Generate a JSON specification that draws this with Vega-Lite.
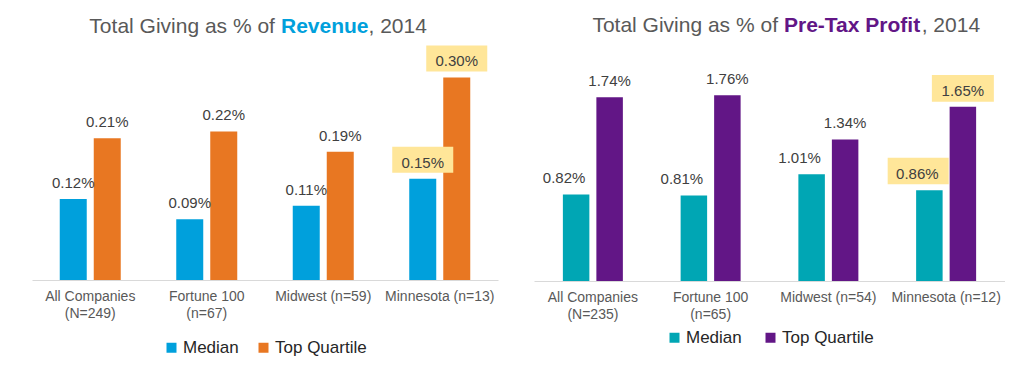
{
  "$schema": "https://vega.github.io/schema/vega-lite/v6.json",
  "background": "white",
  "padding": {"left": 32, "top": 0, "right": 0, "bottom": 0},
  "datasets": {
    "left": [
      {"group": "All Companies|(N=249)", "series": "Median", "value": 0.0012},
      {"group": "All Companies|(N=249)", "series": "Top Quartile", "value": 0.0021},
      {"group": "Fortune 100|(n=67)", "series": "Median", "value": 0.0009},
      {"group": "Fortune 100|(n=67)", "series": "Top Quartile", "value": 0.0022},
      {"group": "Midwest (n=59)", "series": "Median", "value": 0.0011},
      {"group": "Midwest (n=59)", "series": "Top Quartile", "value": 0.0019},
      {"group": "Minnesota (n=13)", "series": "Median", "value": 0.0015},
      {"group": "Minnesota (n=13)", "series": "Top Quartile", "value": 0.0030}
    ],
    "right": [
      {"group": "All Companies|(N=235)", "series": "Median", "value": 0.0082},
      {"group": "All Companies|(N=235)", "series": "Top Quartile", "value": 0.0174},
      {"group": "Fortune 100|(n=65)", "series": "Median", "value": 0.0081},
      {"group": "Fortune 100|(n=65)", "series": "Top Quartile", "value": 0.0176},
      {"group": "Midwest (n=54)", "series": "Median", "value": 0.0101},
      {"group": "Midwest (n=54)", "series": "Top Quartile", "value": 0.0134},
      {"group": "Minnesota (n=12)", "series": "Median", "value": 0.0086},
      {"group": "Minnesota (n=12)", "series": "Top Quartile", "value": 0.0165}
    ],
    "titleLeft": [{"a": "Total Giving as % of", "b": "Revenue", "c": ", 2014"}],
    "titleRight": [{"a": "Total Giving as % of", "b": "Pre-Tax Profit", "c": ", 2014"}]
  },
  "spacing": 36,
  "hconcat": [
    {
      "width": 466,
      "height": 280,
      "layer": [
        {
          "data": {"name": "left"},
          "encoding": {
            "x": {"field": "group", "type": "nominal", "sort": null, "scale": {"paddingInner": 0, "paddingOuter": 0},
                  "axis": {"title": null, "labelExpr": "split(datum.label, '|')"}},
            "xOffset": {"field": "series", "type": "nominal", "sort": null, "scale": {"paddingInner": 0.206, "paddingOuter": 0.816}},
            "y": {"field": "value", "type": "quantitative", "scale": {"domain": [0, 0.004148], "nice": false}, "axis": null}
          },
          "layer": [
            {
              "mark": {"type": "bar"},
              "encoding": {
                "color": {"field": "series", "type": "nominal", "sort": null,
                          "scale": {"domain": ["Median", "Top Quartile"], "range": ["#00A0DC", "#E87722"]},
                          "legend": {"orient": "bottom", "title": null, "offset": 19}}
              }
            },
            {
              "transform": [{"filter": {"field": "group", "oneOf": ["Minnesota (n=13)"]}}],
              "mark": {"type": "point", "shape": "M-1.017,-1.067H1.017V-0.2H-1.017Z", "filled": true, "size": 3600, "color": "#FFE699", "opacity": 1, "strokeWidth": 0}
            },
            {
              "mark": {"type": "text", "baseline": "alphabetic", "dy": -11, "fontSize": 15, "font": "Liberation Sans", "color": "#404040"},
              "encoding": {"text": {"field": "value", "type": "quantitative", "format": ".2%"}}
            }
          ]
        },
        {
          "data": {"name": "titleLeft"},
          "mark": {"type": "text", "align": "right", "baseline": "alphabetic", "dx": -6, "fontSize": 21, "font": "Liberation Sans", "color": "#595959"},
          "encoding": {"x": {"datum": "Midwest (n=59)", "type": "nominal", "bandPosition": 0.137}, "y": {"datum": 0.003659, "type": "quantitative"}, "text": {"field": "a", "type": "nominal"}}
        },
        {
          "data": {"name": "titleLeft"},
          "mark": {"type": "text", "align": "left", "baseline": "alphabetic", "fontSize": 21, "font": "Liberation Sans", "fontWeight": "bold", "color": "#00A0DC"},
          "encoding": {"x": {"datum": "Midwest (n=59)", "type": "nominal", "bandPosition": 0.137}, "y": {"datum": 0.003659, "type": "quantitative"}, "text": {"field": "b", "type": "nominal"}}
        },
        {
          "data": {"name": "titleLeft"},
          "mark": {"type": "text", "align": "left", "baseline": "alphabetic", "dx": 87.5, "fontSize": 21, "font": "Liberation Sans", "color": "#595959"},
          "encoding": {"x": {"datum": "Midwest (n=59)", "type": "nominal", "bandPosition": 0.137}, "y": {"datum": 0.003659, "type": "quantitative"}, "text": {"field": "c", "type": "nominal"}}
        }
      ]
    },
    {
      "width": 471,
      "height": 281,
      "layer": [
        {
          "data": {"name": "right"},
          "encoding": {
            "x": {"field": "group", "type": "nominal", "sort": null, "scale": {"paddingInner": 0, "paddingOuter": 0},
                  "axis": {"title": null, "labelExpr": "split(datum.label, '|')"}},
            "xOffset": {"field": "series", "type": "nominal", "sort": null, "scale": {"paddingInner": 0.209, "paddingOuter": 0.862}},
            "y": {"field": "value", "type": "quantitative", "scale": {"domain": [0, 0.02661], "nice": false}, "axis": null}
          },
          "layer": [
            {
              "mark": {"type": "bar"},
              "encoding": {
                "color": {"field": "series", "type": "nominal", "sort": null,
                          "scale": {"domain": ["Median", "Top Quartile"], "range": ["#00A6B4", "#621686"]},
                          "legend": {"orient": "bottom", "title": null, "offset": 8, "columnPadding": 20}}
              }
            },
            {
              "transform": [{"filter": {"field": "group", "oneOf": ["Minnesota (n=12)"]}}, {"filter": {"field": "series", "oneOf": ["Median"]}}],
              "mark": {"type": "point", "shape": "M-1.39,-1.08H0.643V-0.2H-1.39Z", "filled": true, "size": 3600, "color": "#FFE699", "opacity": 1, "strokeWidth": 0}
            },
            {
              "transform": [{"filter": {"field": "group", "oneOf": ["Minnesota (n=12)"]}}, {"filter": {"field": "series", "oneOf": ["Top Quartile"]}}],
              "mark": {"type": "point", "shape": "M-1.033,-1.056H1.033V-0.167H-1.033Z", "filled": true, "size": 3600, "color": "#FFE699", "opacity": 1, "strokeWidth": 0}
            },
            {
              "transform": [{"filter": {"field": "series", "oneOf": ["Median"]}}],
              "mark": {"type": "text", "baseline": "alphabetic", "dy": -11, "dx": -12, "fontSize": 15, "font": "Liberation Sans", "color": "#404040"},
              "encoding": {"text": {"field": "value", "type": "quantitative", "format": ".2%"}}
            },
            {
              "transform": [{"filter": {"field": "series", "oneOf": ["Top Quartile"]}}],
              "mark": {"type": "text", "baseline": "alphabetic", "dy": -11, "fontSize": 15, "font": "Liberation Sans", "color": "#404040"},
              "encoding": {"text": {"field": "value", "type": "quantitative", "format": ".2%"}}
            }
          ]
        },
        {
          "data": {"name": "titleRight"},
          "mark": {"type": "text", "align": "right", "baseline": "alphabetic", "dx": -6, "fontSize": 21, "font": "Liberation Sans", "color": "#595959"},
          "encoding": {"x": {"datum": "Midwest (n=54)", "type": "nominal", "bandPosition": 0.123}, "y": {"datum": 0.02358, "type": "quantitative"}, "text": {"field": "a", "type": "nominal"}}
        },
        {
          "data": {"name": "titleRight"},
          "mark": {"type": "text", "align": "left", "baseline": "alphabetic", "fontSize": 21, "font": "Liberation Sans", "fontWeight": "bold", "color": "#621686"},
          "encoding": {"x": {"datum": "Midwest (n=54)", "type": "nominal", "bandPosition": 0.123}, "y": {"datum": 0.02358, "type": "quantitative"}, "text": {"field": "b", "type": "nominal"}}
        },
        {
          "data": {"name": "titleRight"},
          "mark": {"type": "text", "align": "left", "baseline": "alphabetic", "dx": 137.7, "fontSize": 21, "font": "Liberation Sans", "color": "#595959"},
          "encoding": {"x": {"datum": "Midwest (n=54)", "type": "nominal", "bandPosition": 0.123}, "y": {"datum": 0.02358, "type": "quantitative"}, "text": {"field": "c", "type": "nominal"}}
        }
      ]
    }
  ],
  "resolve": {"scale": {"color": "independent", "x": "independent", "y": "independent", "xOffset": "independent"}, "legend": {"color": "independent"}},
  "config": {
    "view": {"stroke": null},
    "font": "Liberation Sans",
    "axis": {
      "domainColor": "#D9D9D9", "domainWidth": 1, "ticks": false, "grid": false,
      "labelFont": "Liberation Sans", "labelFontSize": 14, "labelColor": "#595959",
      "labelPadding": 9, "labelLineHeight": 17, "labelAngle": 0, "labelLimit": 200
    },
    "legend": {
      "symbolType": "square", "symbolSize": 100, "symbolStrokeWidth": 0,
      "labelFont": "Liberation Sans", "labelFontSize": 17, "labelColor": "#262626",
      "columnPadding": 16, "labelOffset": 3,
      "layout": {"bottom": {"anchor": "middle"}}
    }
  }
}
